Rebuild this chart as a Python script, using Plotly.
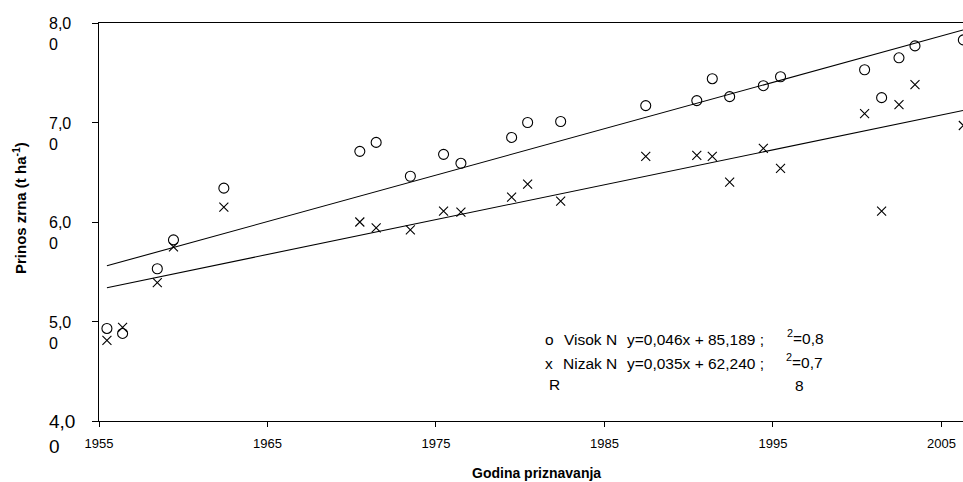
import plotly.graph_objects as go

# ---- data ----
years = [1955.47, 1956.40, 1958.46, 1959.42, 1962.41, 1970.48, 1971.45, 1973.48,
         1975.45, 1976.48, 1979.49, 1980.44, 1982.40, 1987.45, 1990.48, 1991.40,
         1992.43, 1994.43, 1995.45, 2000.44, 2001.45, 2002.48, 2003.43, 2006.30]
visok_n = [4.93, 4.88, 5.53, 5.82, 6.34, 6.71, 6.80, 6.46, 6.68, 6.59, 6.85, 7.00,
           7.01, 7.17, 7.22, 7.44, 7.26, 7.37, 7.46, 7.53, 7.25, 7.65, 7.77, 7.83]
nizak_n = [4.81, 4.94, 5.39, 5.75, 6.15, 6.00, 5.94, 5.92, 6.11, 6.10, 6.25, 6.38,
           6.21, 6.66, 6.67, 6.66, 6.40, 6.74, 6.54, 7.09, 6.11, 7.18, 7.38, 6.97]

trend_x = [1955.47, 2006.28]
trend_visok = [5.56, 7.93]
trend_nizak = [5.34, 7.12]

x_ticks = [1955, 1965, 1975, 1985, 1995, 2005]
y_ticks = [4, 5, 6, 7, 8]
y_labels = ["4,0<br>0", "5,0<br>0", "6,0<br>0", "7,0<br>0", "8,0<br>0"]

W, H = 963, 482
L, R, T, B = 99, 0, 23, 61
PW, PH = W - L - R, H - T - B


def px(x):
    return (x - L) / PW


def py(y):
    return (H - B - y) / PH


fig = go.Figure()
fig.add_trace(go.Scatter(x=trend_x, y=trend_visok, mode="lines",
                         line=dict(color="black", width=1.1), showlegend=False))
fig.add_trace(go.Scatter(x=trend_x, y=trend_nizak, mode="lines",
                         line=dict(color="black", width=1.1), showlegend=False))
fig.add_trace(go.Scatter(x=years, y=visok_n, mode="markers", name="Visok N",
                         marker=dict(symbol="circle-open", size=10, color="black",
                                     line=dict(width=1.1)), showlegend=False))
fig.add_trace(go.Scatter(x=years, y=nizak_n, mode="markers", name="Nizak N",
                         marker=dict(symbol="x-thin-open", size=9, color="black",
                                     line=dict(width=1.1, color="black")),
                         showlegend=False))

font = "Arial, Liberation Sans, sans-serif"
ann = []
# y tick labels (first line centred on the tick)
for v, t in zip(y_ticks, y_labels):
    fs = 19 if v == 4 else 16
    ann.append(dict(x=px(47), xref="paper", y=v, yref="y", text=t,
                    xanchor="left", yanchor="top", align="left", showarrow=False,
                    yshift=fs * 0.62, font=dict(size=fs, color="black", family=font)))

# axis titles
ann.append(dict(x=px(20), y=py(208), xref="paper", yref="paper",
                text="<b>Prinos zrna (t ha<sup>-1</sup>)</b>", textangle=-90,
                showarrow=False, xanchor="center", yanchor="middle",
                font=dict(size=15, color="black", family=font)))
ann.append(dict(x=px(536), y=py(473), xref="paper", yref="paper",
                text="<b>Godina priznavanja</b>", showarrow=False,
                xanchor="center", yanchor="middle",
                font=dict(size=14, color="black", family=font)))

# equation text
eq = [
    (543, 339, "o"), (562, 339, "Visok N"), (625, 339, "y=0,046x + 85,189 ;"),
    (785, 337, "<sup>2</sup>=0,8"),
    (543, 363, "x"), (561, 363, "Nizak N"), (625, 363, "y=0,035x + 62,240 ;"),
    (784, 361, "<sup>2</sup>=0,7"),
    (547, 384, "R"), (793, 385, "8"),
]
for x0, y0, t in eq:
    ann.append(dict(x=px(x0), y=py(y0), xref="paper", yref="paper", text=t,
                    showarrow=False, xanchor="left", yanchor="middle",
                    font=dict(size=15.5, color="black", family=font)))

fig.update_layout(
    width=W, height=H,
    margin=dict(l=L, r=R, t=T, b=B, pad=0),
    paper_bgcolor="white", plot_bgcolor="white",
    annotations=ann,
    xaxis=dict(range=[1955, 2006.28], tickvals=x_ticks, ticks="outside", ticklen=5,
               tickcolor="black", showline=True, linecolor="black", linewidth=1,
               mirror=True, showgrid=False, zeroline=False, ticklabelstandoff=5,
               tickfont=dict(size=13, color="black", family=font)),
    yaxis=dict(range=[4, 8], tickvals=y_ticks, ticks="outside", ticklen=6,
               tickcolor="black", showline=True, linecolor="black", linewidth=1,
               showgrid=False, zeroline=False, showticklabels=False),
    font=dict(family=font, color="black"),
)

fig.write_html("out.html")
